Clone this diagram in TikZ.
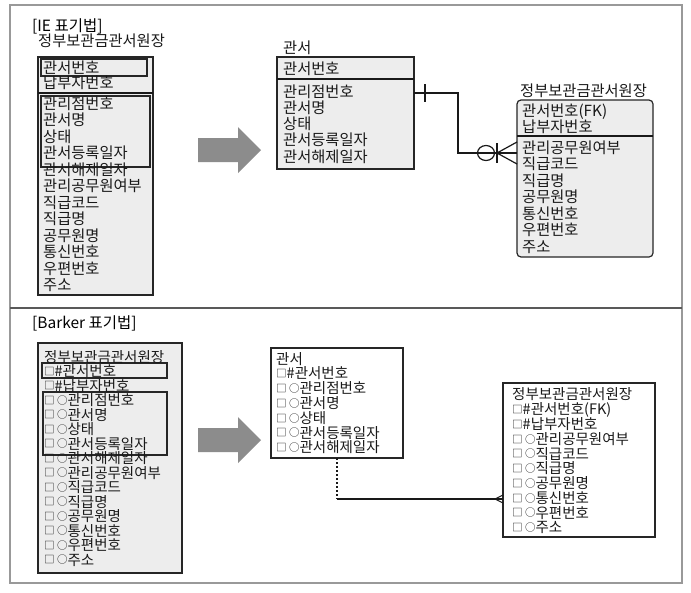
\documentclass[tikz,border=0pt]{standalone}
\usepackage{fontspec}
\setmainfont{Noto Sans CJK KR}
\usetikzlibrary{calc}
\newcommand{\bxsq}{\raisebox{1.2pt}{\fontsize{10.5}{11}\selectfont □}}
\newcommand{\bxci}{\raisebox{1.2pt}{\fontsize{10.5}{11}\selectfont ○}}
\begin{document}
\begin{tikzpicture}[x=1pt,y=-1pt,
  frameline/.style={draw=black!40,line width=1.2pt},
  divline/.style={draw=black!65,line width=1.3pt},
  iebox/.style={draw=black!85,fill=black!7,line width=1.2pt,inner sep=0pt,outer sep=0pt,anchor=north west},
  bkbox/.style={draw=black!85,fill=white,line width=1.5pt,inner sep=0pt,outer sep=0pt,anchor=north west},
  keybox/.style={draw=black!85,line width=1.2pt,inner sep=0pt,outer sep=0pt,anchor=north west},
  ietext/.style={anchor=base west,inner sep=0pt,text=black!90,font=\fontsize{15.3}{17}\selectfont},
  bktext/.style={anchor=base west,inner sep=0pt,text=black!90,font=\fontsize{14.5}{16}\selectfont},
  headtext/.style={anchor=base west,inner sep=0pt,text=black,font=\fontsize{15.5}{17}\selectfont},
  bigarrow/.style={fill=black!45,draw=none},
  conn/.style={draw=black!90,line width=1.2pt},
  dotline/.style={draw=black!90,line width=1.6pt,dash pattern=on 2pt off 2pt}
]
\fill[white] (0,0) rectangle (691,592);
\useasboundingbox (0,0) rectangle (691,592);
\draw[frameline] (10,5) rectangle (682,583);
\draw[divline] (10,308) -- (682,308);

% ================= IE =================
\node[headtext] (ieTitle) at (32,31) {[IE 표기법]};

% left entity
\node[ietext] (ieLname) at (38,46) {정부보관금관서원장};
\node[iebox,minimum width=115pt,minimum height=238pt] (ieL) at (38,57) {};
\draw[conn] ($(ieL.north west)+(0,36)$) -- ($(ieL.north east)+(0,36)$);
\node[keybox,minimum width=106pt,minimum height=17pt] (ieLk1) at (41,59) {};
\node[keybox,minimum width=109pt,minimum height=71pt] (ieLk2) at (41,96) {};
\node[ietext] (ieL1) at (43,73) {관서번호};
\node[ietext] (ieL2) at (43,88) {납부자번호};
\foreach \t [count=\i from 3] in {관리점번호,관서명,상태,관서등록일자,관서해제일자,관리공무원여부,직급코드,직급명,공무원명,통신번호,우편번호,주소}
  \node[ietext] (ieL\i) at (43,{109+(\i-3)*16.5}) {\t};

% arrow
\fill[bigarrow] (198,138) -- (238,138) -- (238,127) -- (261,150) -- (238,173) -- (238,162) -- (198,162) -- cycle;

% 관서 entity
\node[ietext] (ieGname) at (283,53) {관서};
\node[iebox,minimum width=137pt,minimum height=112pt] (ieG) at (277,57) {};
\draw[conn] ($(ieG.north west)+(0,22)$) -- ($(ieG.north east)+(0,22)$);
\node[ietext] (ieG1) at (283,74) {관서번호};
\foreach \t [count=\i from 2] in {관리점번호,관서명,상태,관서등록일자,관서해제일자}
  \node[ietext] (ieG\i) at (283,{97+(\i-2)*16.3}) {\t};

% right entity
\node[ietext] (ieRname) at (520,96) {정부보관금관서원장};
\node[iebox,rounded corners=4pt,minimum width=136pt,minimum height=157pt] (ieR) at (517,100) {};
\draw[conn] ($(ieR.north west)+(0,36)$) -- ($(ieR.north east)+(0,36)$);
\node[ietext] (ieR1) at (522,116) {관서번호(FK)};
\node[ietext] (ieR2) at (522,132) {납부자번호};
\foreach \t [count=\i from 3] in {관리공무원여부,직급코드,직급명,공무원명,통신번호,우편번호,주소}
  \node[ietext] (ieR\i) at (522,{153+(\i-3)*16.5}) {\t};

% relationship
\coordinate (ieBend) at (458,153);
\coordinate (ieEnd) at ($(ieR.north west)+(0,53)$);
\draw[conn] ($(ieG.north east)+(0,36)$) -| (ieBend) -- (ieEnd);
\draw[conn] ($(ieG.north east)+(11,27)$) -- ($(ieG.north east)+(11,45)$);
\draw[conn] (486,153) ellipse [x radius=8.5pt, y radius=7.5pt];
\draw[conn] (497,143) -- (497,163);
\draw[conn] ($(ieEnd)+(0,-11)$) -- (497,153) -- ($(ieEnd)+(0,11)$);

% ================= Barker =================
\node[headtext] (bkTitle) at (32,328) {[Barker 표기법]};

% left entity
\node[iebox,line width=1.5pt,minimum width=144pt,minimum height=230pt] (bkL) at (38,343) {};
\node[keybox,minimum width=125pt,minimum height=15pt] (bkLk1) at (42,363) {};
\node[keybox,minimum width=124pt,minimum height=63pt] (bkLk2) at (43,392) {};
\node[bktext] (bkL0) at (44,362) {정부보관금관서원장};
\foreach \t [count=\i] in {\bxsq\#관서번호,\bxsq\#납부자번호,\bxsq\,\bxci 관리점번호,\bxsq\,\bxci 관서명,\bxsq\,\bxci 상태,\bxsq\,\bxci 관서등록일자,\bxsq\,\bxci 관서해제일자,\bxsq\,\bxci 관리공무원여부,\bxsq\,\bxci 직급코드,\bxsq\,\bxci 직급명,\bxsq\,\bxci 공무원명,\bxsq\,\bxci 통신번호,\bxsq\,\bxci 우편번호,\bxsq\,\bxci 주소}
  \node[bktext] (bkL\i) at (44,{362+\i*14.5}) {\t};

% arrow
\fill[bigarrow] (198,428) -- (238,428) -- (238,417) -- (261,440) -- (238,463) -- (238,452) -- (198,452) -- cycle;

% 관서 entity
\node[bkbox,minimum width=132pt,minimum height=110pt] (bkG) at (271,348) {};
\node[bktext] (bkG0) at (276,364) {관서};
\foreach \t [count=\i] in {\bxsq\#관서번호,\bxsq\,\bxci 관리점번호,\bxsq\,\bxci 관서명,\bxsq\,\bxci 상태,\bxsq\,\bxci 관서등록일자,\bxsq\,\bxci 관서해제일자}
  \node[bktext] (bkG\i) at (276,{364+\i*14.8}) {\t};

% right entity
\node[bkbox,minimum width=152pt,minimum height=154pt] (bkR) at (503,383) {};
\node[bktext] (bkR0) at (512,399) {정부보관금관서원장};
\foreach \t [count=\i] in {\bxsq\#관서번호(FK),\bxsq\#납부자번호,\bxsq\,\bxci 관리공무원여부,\bxsq\,\bxci 직급코드,\bxsq\,\bxci 직급명,\bxsq\,\bxci 공무원명,\bxsq\,\bxci 통신번호,\bxsq\,\bxci 우편번호,\bxsq\,\bxci 주소}
  \node[bktext] (bkR\i) at (512,{400+\i*14.75}) {\t};

% relationship
\coordinate (bkBend) at (337,499);
\coordinate (bkEnd) at (bkR.west |- bkBend);
\draw[dotline] (bkG.south) -- (bkBend);
\draw[conn] (bkBend) -- (bkEnd);
\draw[conn,line width=1pt] ($(bkEnd)+(0,-4)$) -- ($(bkEnd)+(-8,0)$) -- ($(bkEnd)+(0,4)$);
\end{tikzpicture}
\end{document}
